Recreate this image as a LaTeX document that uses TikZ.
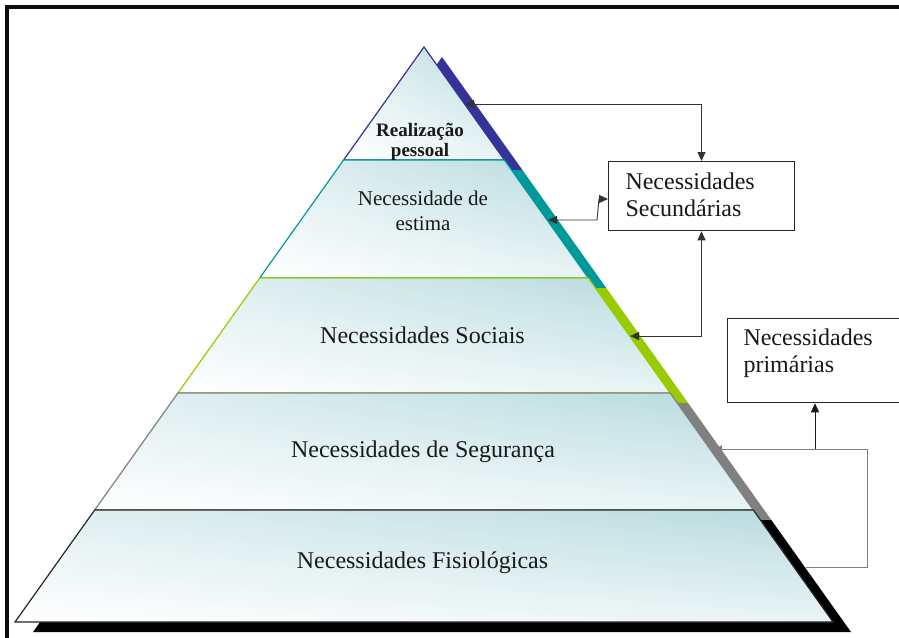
\documentclass[tikz,border=0pt]{standalone}
\usepackage{fontspec}
\setmainfont{Liberation Serif}
\usetikzlibrary{shadings,arrows.meta}

\definecolor{pyrfill}{RGB}{182,218,222}
\definecolor{tierblue}{RGB}{51,51,153}
\definecolor{tierteal}{RGB}{0,153,153}
\definecolor{tiergreen}{RGB}{153,204,0}
\definecolor{tiergray}{RGB}{128,128,128}

% outlines of the five tiers of the pyramid
\def\tierone{(424,47) -- (504.4,160) -- (343.6,160) -- cycle}
\def\tiertwo{(343.6,160) -- (504.4,160) -- (588.3,278) -- (259.7,278) -- cycle}
\def\tierthree{(259.7,278) -- (588.3,278) -- (670.1,393) -- (177.9,393) -- cycle}
\def\tierfour{(177.9,393) -- (670.1,393) -- (753.3,510) -- (94.7,510) -- cycle}
\def\tierfive{(94.7,510) -- (753.3,510) -- (833,622) -- (15,622) -- cycle}

\tikzset{
  tier/.style={upper left=pyrfill!40!white, upper right=pyrfill,
               lower left=white, lower right=pyrfill!30!white,
               line width=1.2pt, line join=miter},
  tiertext/.style={align=center, inner sep=0pt, text=black!90},
  needbox/.style={draw=black!85, line width=1pt, fill=white, align=left,
                  anchor=north west, font={\fontsize{24}{27}\selectfont}, text=black!90},
  biarrow/.style={draw=black!80, line width=0.9pt, {Triangle[length=9pt,width=8pt]}-{Triangle[length=9pt,width=8pt]}},
  feedline/.style={draw=black!50, line width=1pt},
}

\begin{document}
\begin{tikzpicture}[x=1pt,y=-1pt]
\clip (0,0) rectangle (899,637);
\fill[white] (0,0) rectangle (899,637);

% outer frame (only its left and top sides fall inside the page)
\draw[line width=4pt, black!95] (7,700) -- (7,7) -- (950,7);

% extruded side of the pyramid
\begin{scope}[shift={(18,10)}]
  \fill[tierblue]  \tierone;
  \fill[tierteal]  \tiertwo;
  \fill[tiergreen] \tierthree;
  \fill[tiergray]  \tierfour;
  \fill[black]     \tierfive;
\end{scope}

% front faces of the tiers
\shadedraw[tier, draw=tierblue]  \tierone;
\shadedraw[tier, draw=tierteal]  \tiertwo;
\shadedraw[tier, draw=tiergreen] \tierthree;
\shadedraw[tier, draw=tiergray]  \tierfour;
\shadedraw[tier, draw=black!85]  \tierfive;

% tier labels
\node[tiertext, font={\fontsize{19}{20}\selectfont\bfseries}] (self) at (420,141.5) {Realização\\pessoal};
\node[tiertext, font={\fontsize{21}{25}\selectfont}] (esteem) at (423,210.4) {Necessidade de\\estima};
\node[tiertext, anchor=base, font={\fontsize{24}{27}\selectfont}] (social) at (422.5,343) {Necessidades Sociais};
\node[tiertext, anchor=base, font={\fontsize{24}{27}\selectfont}] (safety) at (423,457) {Necessidades de Segurança};
\node[tiertext, anchor=base, font={\fontsize{24}{27}\selectfont}] (physio) at (422.5,568) {Necessidades Fisiológicas};

% grouping boxes
\node[needbox, text width=152pt, inner xsep=17pt, inner ysep=11.6pt, text depth=29.4pt]
  (sec) at (608,161) {Necessidades\\Secundárias};
\node[needbox, text width=158pt, inner xsep=16pt, inner ysep=10.6pt, text depth=46.4pt]
  (prim) at (727,318) {Necessidades\\primárias};

% points on the side of the pyramid that the connectors reach
\coordinate (sidetop) at (465,104);
\coordinate (sideesteem) at (548,220);
\coordinate (sidesocial) at (630,336);
\coordinate (sidesafety) at (714,449);
\coordinate (sidephysio) at (806,567);
\coordinate (esteembendA) at (597,220);
\coordinate (esteembendB) at (599,199);
\coordinate (primjoin) at (815,449);
\coordinate (loopA) at (867,567);
\coordinate (loopB) at (867,449);

% connectors of the secondary needs
\draw[biarrow] (sec.north) |- (sidetop);
\draw[biarrow] (sideesteem) -- (esteembendA) -- (esteembendB) -- (sec.west |- esteembendB);
\draw[biarrow] (sec.south) |- (sidesocial);

% connectors of the primary needs
\draw[feedline, -{Triangle[length=8pt,width=7pt]}] (sidephysio) -- (loopA) -- (loopB) -- (sidesafety);
\draw[draw=black!90, line width=1pt, -{Triangle[length=9pt,width=8pt]}] (primjoin) -- (primjoin |- prim.south);
\end{tikzpicture}
\end{document}
